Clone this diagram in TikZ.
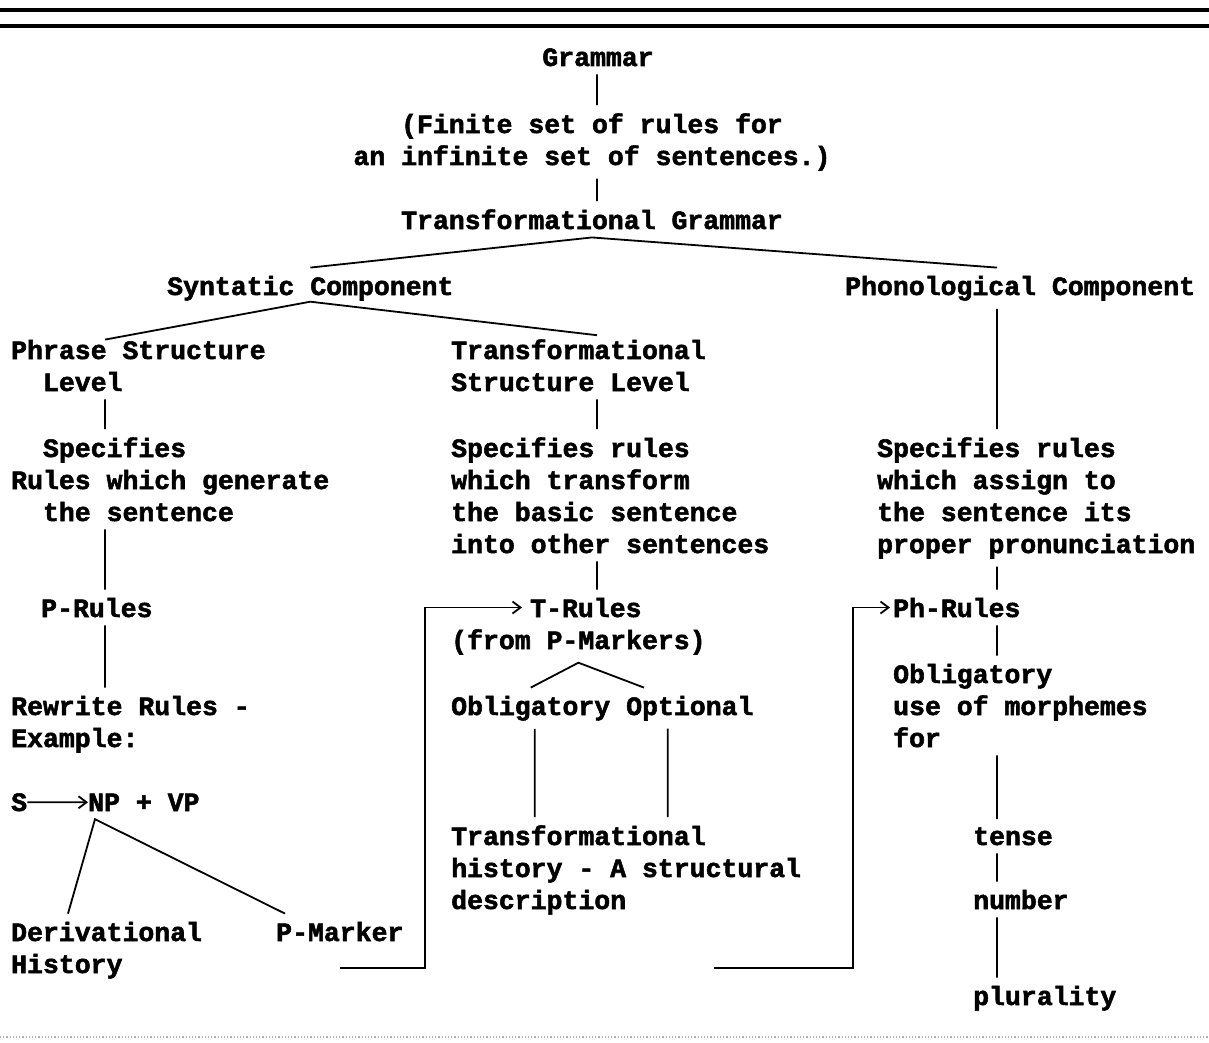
\documentclass[tikz,border=0pt]{standalone}
\usepackage{fontspec}
\newfontfamily\heavytt[FakeBold=2]{Liberation Mono Bold}
\usepackage{tikz}
\usetikzlibrary{arrows.meta}
\newcommand{\typw}{\heavytt\fontsize{26.5}{32}\selectfont}
\tikzstyle{lbl}=[anchor=base west, align=left, inner xsep=0pt, inner ysep=8pt, font=\typw]
\tikzstyle{mid}=[anchor=base, align=center, inner xsep=0pt, inner ysep=8pt, font=\typw]
\tikzstyle{link}=[line width=1.8pt]
\tikzstyle{loopback}=[line width=1.8pt, -{Straight Barb[length=8pt, width=12pt]}]

\begin{document}
\begin{tikzpicture}[x=1pt, y=-1pt]
	\useasboundingbox (0,0) rectangle (1209,1043);
	\draw[line width=4pt] (0,10) -- (1209,10);
	\draw[line width=4pt] (0,26) -- (1209,26);
	\draw[gray!60, line width=1.2pt, dotted] (0,1037) -- (1209,1037);
	% top of the tree (multi-line nodes sit on their last line)
	\node[mid] (gram) at (598,66) {Grammar};
	\node[mid] (finite) at (592,165) {(Finite set of rules for\\an infinite set of sentences.)};
	\node[mid] (tg) at (592,229) {Transformational Grammar};
	\node[lbl] (syn) at (167,295) {Syntatic Component};
	\node[lbl] (phon) at (845,295) {Phonological Component};
	% left column
	\node[lbl] (psl) at (11,391) {Phrase Structure\\\hphantom{XX}Level};
	\node[lbl] (specl) at (11,521) {\hphantom{XX}Specifies\\Rules which generate\\\hphantom{XX}the sentence};
	\node[lbl] (prules) at (41,617) {P-Rules};
	\node[lbl] (rewrite) at (11,747) {Rewrite Rules -\\Example:};
	\node[lbl] (s) at (11,811) {S};
	\node[lbl] (npvp) at (88,811) {NP + VP};
	\node[lbl] (deriv) at (11,973) {Derivational\\History};
	\node[lbl] (pmark) at (276,941) {P-Marker};
	% middle column
	\node[lbl] (tsl) at (451,391) {Transformational\\Structure Level};
	\node[lbl] (specm) at (451,553) {Specifies rules\\which transform\\the basic sentence\\into other sentences};
	\node[lbl] (trules) at (530,617) {T-Rules};
	\node[lbl] (fromp) at (451,649) {(from P-Markers)};
	\node[lbl] (obl) at (451,715) {Obligatory};
	\node[lbl] (opt) at (626,715) {Optional};
	\node[lbl] (thist) at (451,909) {Transformational\\history - A structural\\description};
	% right column
	\node[lbl] (specr) at (877,553) {Specifies rules\\which assign to\\the sentence its\\proper pronunciation};
	\node[lbl] (phrules) at (893,617) {Ph-Rules};
	\node[lbl] (oblr) at (893,747) {Obligatory\\use of morphemes\\for};
	\node[lbl] (tense) at (973,845) {tense};
	\node[lbl] (number) at (973,909) {number};
	\node[lbl] (plural) at (973,1005) {plurality};

	\coordinate (colL) at (105,0);
	\coordinate (colM) at (597,0);
	\coordinate (colR) at (997,0);
	\coordinate (loopA) at (340,968);
	\coordinate (cornerA) at (425,968);
	\coordinate (loopB) at (714,968);
	\coordinate (cornerB) at (853,968);

	\path[link, draw=black]
		(gram.south -| colM)--(finite.north -| colM)
		(finite.south -| colM)--(tg.north -| colM)
		(syn.north)--(tg.south)--(phon.north -| colR)
		([yshift=-8pt]psl.north -| colL)--([yshift=7pt]syn.south)--([yshift=-4pt]tsl.north -| colM)
		(psl.south -| colL)--(specl.north -| colL)
		(specl.south -| colL)--(prules.north -| colL)
		(prules.south -| colL)--(rewrite.north -| colL)
		(tsl.south -| colM)--(specm.north -| colM)
		(specm.south -| colM)--(trules.north -| colM)
		(obl.north)--(fromp.south)--([xshift=18pt]opt.north west)
		([xshift=4pt]obl.south)--([xshift=4pt]obl.south |- thist.north)
		([xshift=-22pt]opt.south)--([xshift=-22pt]opt.south |- thist.north)
		([xshift=57pt]deriv.north west)--([xshift=7pt]npvp.south west)--([xshift=9pt]pmark.north west)
		(phon.south -| colR)--(specr.north -| colR)
		(specr.south -| colR)--(phrules.north -| colR)
		(phrules.south -| colR)--(oblr.north -| colR)
		(oblr.south -| colR)--(tense.north -| colR)
		(tense.south -| colR)--(number.north -| colR)
		(number.south -| colR)--(plural.north -| colR);
	\draw[loopback] (s.east) -- (npvp.west);
	\draw[loopback, shorten >=8pt] (loopA) -- (cornerA) |- (trules.west);
	\draw[loopback, shorten >=3pt] (loopB) -- (cornerB) |- (phrules.west);
\end{tikzpicture}
\end{document}
